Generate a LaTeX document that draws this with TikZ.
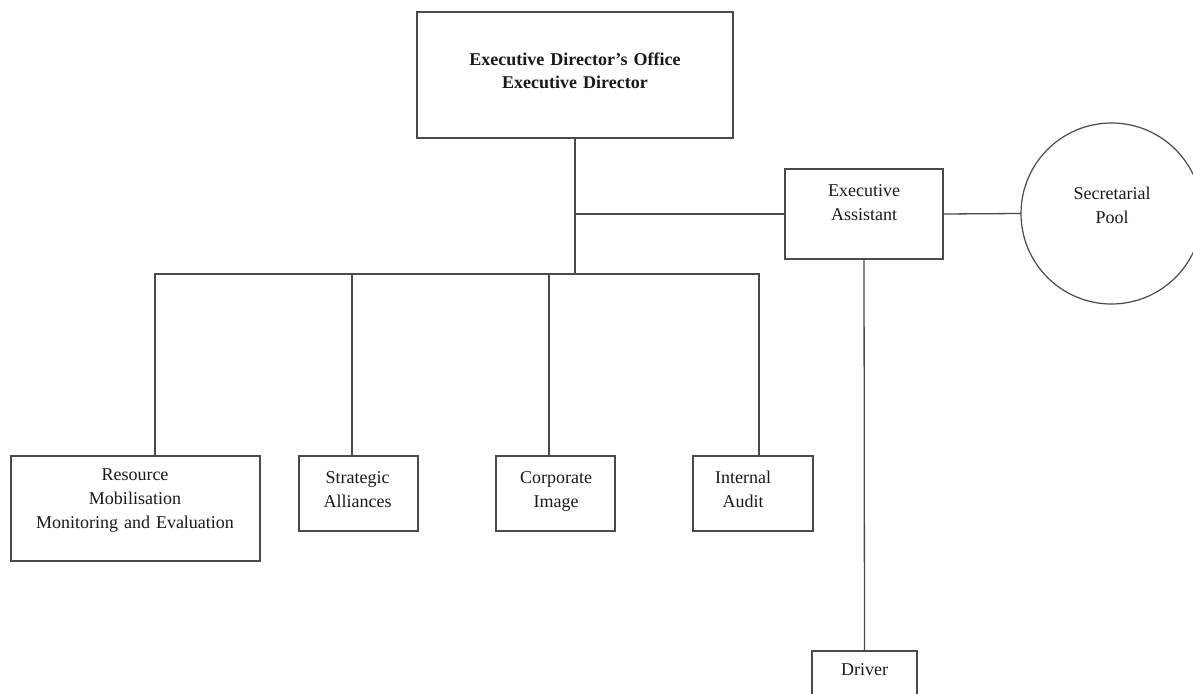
\documentclass[tikz,border=0pt]{standalone}
\usepackage{fontspec}
\setmainfont{Liberation Serif}
\definecolor{linegray}{HTML}{4A4A4A}
\begin{document}
\begin{tikzpicture}[x=1pt,y=-1pt,
  box/.style={draw=linegray, line width=1.3pt, inner sep=0pt, outer sep=0pt, fill=white},
  orgcircle/.style={draw=linegray, line width=1.2pt, circle, inner sep=0pt, outer sep=0pt},
  lbl/.style={anchor=base, text width=260pt, align=center, inner sep=0pt,
              font=\fontsize{18}{24}\selectfont, text=black!90},
  conn/.style={draw=linegray, line width=1.3pt}]
\useasboundingbox (0,0) rectangle (1193,693);

% boxes
\node[box, minimum width=316pt, minimum height=126pt] (ed) at (575,75) {};
\node[box, minimum width=158pt, minimum height=90pt] (ea) at (864,214) {};
\node[orgcircle, minimum size=181pt] (pool) at (1111.5,213.5) {};
\node[box, minimum width=249pt, minimum height=105pt] (res) at (135.5,508.5) {};
\node[box, minimum width=119pt, minimum height=75pt] (strat) at (358.5,493.5) {};
\node[box, minimum width=119pt, minimum height=75pt] (corp) at (555.5,493.5) {};
\node[box, minimum width=120pt, minimum height=75pt] (audit) at (753,493.5) {};
\node[box, minimum width=105pt, minimum height=80pt] (drv) at (864.5,691) {};

% labels
\node[lbl] (edtxt) at (575,65) {\bfseries Executive Director’s Office\\Executive Director};
\node[lbl] (eatxt) at (864,196) {Executive\\Assistant};
\node[lbl] (pooltxt) at (1112,199) {Secretarial\\Pool};
\node[lbl] (restxt) at (135,480) {Resource\\Mobilisation\\Monitoring and Evaluation};
\node[lbl] (strattxt) at (357.5,483) {Strategic\\Alliances};
\node[lbl] (corptxt) at (556,483) {Corporate\\Image};
\node[lbl] (audittxt) at (743,483) {Internal\\Audit};
\node[lbl] (drvtxt) at (864.5,675) {Driver};

% junction points
\coordinate (bus) at (575,274);
\coordinate (b1) at (155,274);
\coordinate (b2) at (352,274);
\coordinate (b3) at (549,274);
\coordinate (b4) at (759,274);
\coordinate (tap) at (ed.south |- ea.west);

% connectors
\draw[conn] (ed.south) -- (bus);
\draw[conn] (b1 |- res.north) -- (b1) -- (b4) -- (b4 |- audit.north);
\draw[conn] (b2) -- (b2 |- strat.north);
\draw[conn] (b3) -- (b3 |- corp.north);
\draw[conn] (tap) -- (ea.west);
\draw[conn] (ea.east) -- (pool.west);
\draw[conn] (ea.south) -- (drv.north);
\end{tikzpicture}
\end{document}
